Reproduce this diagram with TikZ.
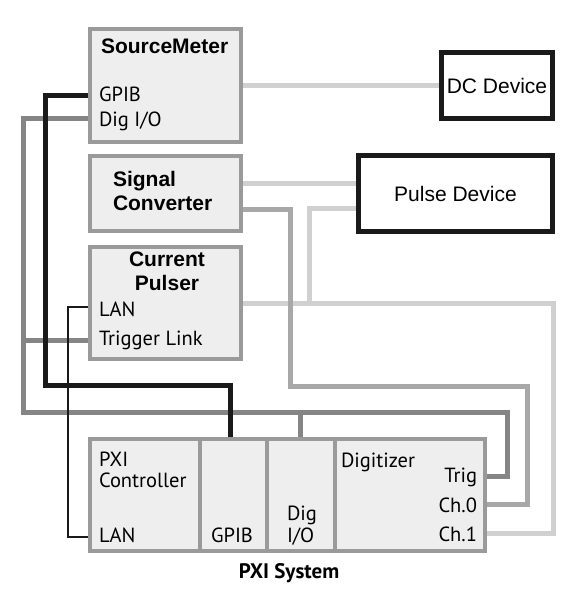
\documentclass[tikz,border=0pt]{standalone}
\usepackage{fontspec}
\setmainfont{PT Sans}
\newfontfamily\arialf{Liberation Sans}
\definecolor{boxgray}{HTML}{9A9A9A}
\definecolor{boxfill}{HTML}{EEEEEE}
\definecolor{dgray}{HTML}{858585}
\definecolor{mgray}{HTML}{A8A8A8}
\definecolor{lgray}{HTML}{D0D0D0}
\definecolor{blk}{HTML}{1A1A1A}
\tikzset{
  graybox/.style={draw=boxgray, fill=boxfill, line width=4pt, anchor=north west, inner sep=0pt, outer sep=0pt},
  devbox/.style={draw=blk, fill=white, line width=5pt, inner sep=0pt, outer sep=0pt, font=\arialf\fontsize{21}{24}\selectfont},
  lbl/.style={inner sep=0pt, outer sep=0pt, font=\fontsize{20.5}{23}\selectfont},
  blbl/.style={inner sep=0pt, outer sep=0pt, font=\arialf\bfseries\fontsize{21}{24}\selectfont},
  lline/.style={draw=lgray, line width=5pt},
  mline/.style={draw=mgray, line width=5pt},
  dline/.style={draw=dgray, line width=5pt},
  kline/.style={draw=blk, line width=5pt},
  tline/.style={draw=blk, line width=1.5pt},
  divider/.style={draw=boxgray, line width=4pt}
}
\begin{document}
\begin{tikzpicture}[x=1pt,y=-1pt]
\useasboundingbox (0,0) rectangle (578,600);
% named boxes (anchors for connectors)
\node[graybox, minimum width=151, minimum height=113] (sm) at (90,29) {};
\node[graybox, minimum width=151, minimum height=75] (sc) at (90,156) {};
\node[graybox, minimum width=151, minimum height=112] (cp) at (90,247) {};
\node[graybox, minimum width=395, minimum height=112] (pxi) at (90,439) {};
\node[devbox, minimum width=111, minimum height=66] (dc) at (497,85.5) {};
\node[devbox, minimum width=194, minimum height=76] (pd) at (455.5,193.5) {};

% connectors: light gray
\draw[lline] (sm.east |- dc.west) -- (dc.west);
\draw[lline] (sc.east |- 0,183) -- (pd.west |- 0,183);
\draw[lline] (cp.east |- 0,303) -- (553,303) -- (553,533) -- (pxi.east |- 0,533);
\draw[lline] (pd.west |- 0,208) -- (309,208) -- (309,303);
% medium gray
\draw[mline] (sc.east |- 0,209) -- (290,209) -- (290,386) -- (527,386) -- (527,504) -- (pxi.east |- 0,504);
% dark gray
\draw[dline] (sm.west |- 0,118) -- (23,118) -- (23,412) -- (507,412) -- (507,476) -- (pxi.east |- 0,476);
\draw[dline] (cp.west |- 0,340) -- (23,340);
\draw[dline] (300,412) -- (pxi.north -| 300,0);
% black
\draw[kline] (sm.west |- 0,95) -- (45,95) -- (45,385) -- (230,385) -- (pxi.north -| 230,0);
\draw[tline] (cp.west |- 0,307) -- (68,307) -- (68,537) -- (pxi.west |- 0,537);

% boxes redrawn on top of line ends
\node[graybox, minimum width=151, minimum height=113] at (90,29) {};
\node[graybox, minimum width=151, minimum height=75] at (90,156) {};
\node[graybox, minimum width=151, minimum height=112] at (90,247) {};
\node[graybox, minimum width=395, minimum height=112] at (90,439) {};
\node[devbox, minimum width=111, minimum height=66] (dct) at (497,85.5) {DC Device};
\node[devbox, minimum width=194, minimum height=76] (pdt) at (455.5,193.5) {Pulse Device};
\draw[divider] (pxi.north -| 200,0) -- (pxi.south -| 200,0);
\draw[divider] (pxi.north -| 267,0) -- (pxi.south -| 267,0);
\draw[divider] (pxi.north -| 335,0) -- (pxi.south -| 335,0);

% texts
\node[blbl, anchor=base west] (t1) at (101,53) {SourceMeter};
\node[lbl, anchor=base west] (t2) at (99,101) {GPIB};
\node[lbl, anchor=base west] (t3) at (99,126) {Dig I/O};
\node[blbl, anchor=base west] (t4) at (113,186) {Signal};
\node[blbl, anchor=base west] (t5) at (113,210) {Converter};
\node[blbl, anchor=base] (t6) at (167,266) {Current};
\node[blbl, anchor=base] (t7) at (167,290) {Pulser};
\node[lbl, anchor=base west] (t8) at (99,316) {LAN};
\node[lbl, anchor=base west] (t9) at (99,345) {Trigger Link};
\node[lbl, anchor=base west] (t10) at (99,466) {PXI};
\node[lbl, anchor=base west] (t11) at (99,487) {Controller};
\node[lbl, anchor=base west] (t12) at (99,542) {LAN};
\node[lbl, anchor=base west] (t13) at (211,542) {GPIB};
\node[lbl, anchor=base west] (t14) at (287,520) {Dig};
\node[lbl, anchor=base west] (t15) at (287,542) {I/O};
\node[lbl, anchor=base west] (t16) at (341,467) {Digitizer};
\node[lbl, anchor=base east] (t17) at (477,482) {Trig};
\node[lbl, anchor=base east] (t18) at (477,512) {Ch.0};
\node[lbl, anchor=base east] (t19) at (477,541) {Ch.1};
\node[lbl, anchor=base, font=\bfseries\fontsize{21}{24}\selectfont] (t20) at (289,578) {PXI System};
\end{tikzpicture}
\end{document}
